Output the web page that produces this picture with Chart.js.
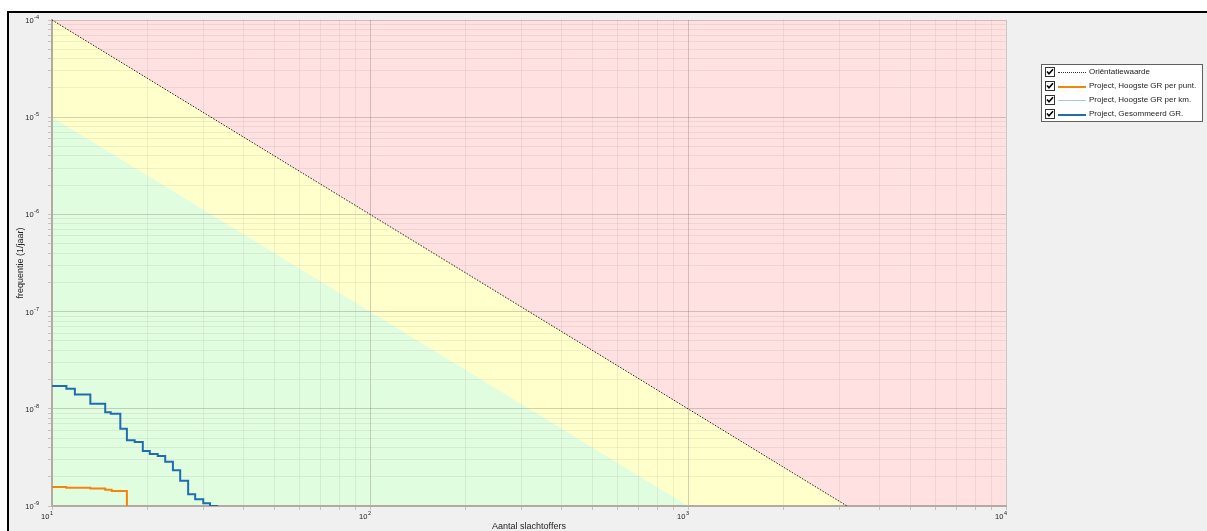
<!DOCTYPE html>
<html>
<head>
<meta charset="utf-8">
<title>FN-curve</title>
<script src="https://cdn.jsdelivr.net/npm/chart.js@4/dist/chart.umd.min.js"></script>
<style>
  html, body { margin: 0; padding: 0; width: 1207px; height: 531px; overflow: hidden; background: #ffffff;
    font-family: "Liberation Sans", Arial, sans-serif; color: #222; }
  #frame { position: absolute; left: 7px; top: 11px; width: 1200px; height: 520px; background: #f0f0f0;
    border-left: 2px solid #000; border-top: 2px solid #000; }
  #fn { position: absolute; left: 0; top: 0; }
  #labels { position: absolute; left: 0; top: 0; width: 1207px; height: 531px; pointer-events: none; }
  .tl { position: absolute; font-size: 7.5px; line-height: 9px; white-space: nowrap; color: #222; }
  .tl .e { font-size: 5.5px; position: relative; top: -4px; margin-left: 0.5px; }
  .xl { transform: translateX(-100%); }
  .yl { transform: translate(-100%, -50%); }
  .title { position: absolute; font-size: 9px; line-height: 11px; white-space: nowrap; color: #222; }
  #ytitle { transform: translate(-50%, -50%) rotate(-90deg); }
  #xtitle { transform: translate(-50%, -50%); }
  #legend { position: absolute; left: 1041px; top: 64px; width: 160px; height: 56px; background: #fff;
    border: 1px solid #606060; }
  .row { position: relative; height: 14px; font-size: 8px; line-height: 14px; white-space: nowrap; }
  .cb { position: absolute; left: 3px; top: 2px; width: 8px; height: 8px; border: 1px solid #333; background: #fff; }
  .cb svg { position: absolute; left: 0; top: 0; }
  .sw { position: absolute; left: 16px; top: 7px; width: 28px; height: 0; }
  .row span.t { position: absolute; left: 47px; top: 0; }
</style>
</head>
<body>
<div id="frame"></div>
<canvas id="fn" width="1207" height="531"></canvas>
<div id="labels"></div>
<div id="ytitle" class="title">frequentie (1/jaar)</div>
<div id="xtitle" class="title">Aantal slachtoffers</div>
<div id="legend"></div>

<script>
// Axis decades (labelled ticks) and the minor mantissas between them
const xDecades = [1, 2, 3, 4];
const yDecades = [-9, -8, -7, -6, -5, -4];
const minorMantissas = [2, 3, 4, 5, 6, 7, 8, 9];

// Oriëntatiewaarde: F = 1e-2 / N^2
const orientatieN = [10, 3162.3];
const orientatieF = [1e-4, 1e-9];
// Lower boundary, a factor 10 below the oriëntatiewaarde
const ondergrensN = [10, 1000];
const ondergrensF = [1e-5, 1e-9];
// Upper edge of the plot, filled down to the axis
const bovengrensN = [10, 10000];
const bovengrensF = [1e-4, 1e-4];

// Project, Hoogste GR per punt.
const puntN = [10, 11.1, 13.2, 14.7, 15.4, 17.2];
const puntF = [1.57e-9, 1.54e-9, 1.51e-9, 1.47e-9, 1.43e-9, 1.0e-9];
// Project, Hoogste GR per km.
const kmN = [];
const kmF = [];
// Project, Gesommeerd GR.
const somN = [10, 11.1, 11.8, 13.2, 14.7, 15.3, 16.4, 17.2, 18.2, 19.3, 20.3, 21.5, 22.7, 24.0, 25.3, 26.8, 28.2, 29.9, 31.4, 33.3];
const somF = [1.72e-8, 1.61e-8, 1.40e-8, 1.13e-8, 9.2e-9, 8.9e-9, 6.24e-9, 4.74e-9, 4.55e-9, 3.68e-9, 3.43e-9, 3.27e-9, 2.86e-9, 2.33e-9, 1.82e-9, 1.32e-9, 1.17e-9, 1.07e-9, 1.0e-9, 1.0e-9];

const legendItems = [
  { label: 'Oriëntatiewaarde', color: '#333', dash: true, width: 1 },
  { label: 'Project, Hoogste GR per punt.', color: '#f7820c', width: 2 },
  { label: 'Project, Hoogste GR per km.', color: '#a9c6e6', width: 1.5 },
  { label: 'Project, Gesommeerd GR.', color: '#1f6db0', width: 2 }
];

const pts = (xs, ys) => xs.map((x, i) => ({ x: x, y: ys[i] }));

function tickValues(decades) {
  const vals = [];
  decades.forEach((e, i) => {
    vals.push(Math.pow(10, e));
    if (i < decades.length - 1) minorMantissas.forEach(m => vals.push(m * Math.pow(10, e)));
  });
  return vals;
}
const isDecade = v => Math.abs(Math.log10(v) - Math.round(Math.log10(v))) < 1e-9;
const majorGrid = 'rgba(120,110,100,0.32)';
const minorGrid = 'rgba(120,110,100,0.11)';

const labelPlugin = {
  id: 'decadeLabels',
  afterDraw(chart) {
    const layer = document.getElementById('labels');
    layer.innerHTML = '';
    const xs = chart.scales.x, ys = chart.scales.y;
    xDecades.forEach(e => {
      const d = document.createElement('div');
      d.className = 'tl xl';
      d.innerHTML = '10<span class="e">' + e + '</span>';
      d.style.left = (xs.getPixelForValue(Math.pow(10, e)) + 1) + 'px';
      d.style.top = (xs.top + 6) + 'px';
      layer.appendChild(d);
    });
    yDecades.forEach(e => {
      const d = document.createElement('div');
      d.className = 'tl yl';
      d.innerHTML = '10<span class="e">' + e + '</span>';
      d.style.left = (ys.right - 13) + 'px';
      d.style.top = (ys.getPixelForValue(Math.pow(10, e)) + 1) + 'px';
      layer.appendChild(d);
    });
    const area = chart.chartArea;
    const yt = document.getElementById('ytitle');
    yt.style.left = '20px';
    yt.style.top = ((area.top + area.bottom) / 2) + 'px';
    const xt = document.getElementById('xtitle');
    xt.style.left = ((area.left + area.right) / 2) + 'px';
    xt.style.top = '526px';
  }
};

new Chart(document.getElementById('fn'), {
  type: 'scatter',
  data: {
    datasets: [
      { label: legendItems[3].label, data: pts(somN, somF), showLine: true, stepped: 'before',
        borderColor: legendItems[3].color, borderWidth: 2, pointRadius: 0, fill: false },
      { label: legendItems[1].label, data: pts(puntN, puntF), showLine: true, stepped: 'before',
        borderColor: legendItems[1].color, borderWidth: 2, pointRadius: 0, fill: false },
      { label: legendItems[2].label, data: pts(kmN, kmF), showLine: true, stepped: 'before',
        borderColor: legendItems[2].color, borderWidth: 1.5, pointRadius: 0, fill: false },
      { label: 'ondergrens', data: pts(ondergrensN, ondergrensF), showLine: true,
        borderWidth: 0, borderColor: 'rgba(0,0,0,0)', backgroundColor: '#e0fde0', pointRadius: 0, fill: 'start' },
      { label: legendItems[0].label, data: pts(orientatieN, orientatieF), showLine: true,
        borderColor: '#222', borderWidth: 1, borderDash: [1.5, 1.5], backgroundColor: '#ffffcc', pointRadius: 0, fill: 'start' },
      { label: 'bovengrens', data: pts(bovengrensN, bovengrensF), showLine: true,
        borderWidth: 0, borderColor: 'rgba(0,0,0,0)', backgroundColor: '#ffe1e1', pointRadius: 0, fill: 'start' }
    ]
  },
  options: {
    responsive: false,
    animation: false,
    layout: { padding: { left: 0, top: 20, right: 201, bottom: 0 } },
    plugins: {
      legend: { display: false },
      tooltip: { enabled: false },
      filler: { drawTime: 'beforeDraw' }
    },
    scales: {
      x: {
        type: 'logarithmic', min: 10, max: 10000,
        afterBuildTicks: s => { s.ticks = tickValues(xDecades).map(v => ({ value: v, major: isDecade(v) })); },
        afterFit: s => { s.height = 25; },
        ticks: { callback: () => '', autoSkip: false, maxRotation: 0, padding: 0, font: { size: 1 } },
        grid: {
          color: c => (c.tick && isDecade(c.tick.value)) ? majorGrid : minorGrid,
          tickColor: 'rgba(120,110,100,0.35)',
          tickLength: 4, lineWidth: 1
        },
        border: { display: true, color: '#b3aaa1', width: 2 }
      },
      y: {
        type: 'logarithmic', min: 1e-9, max: 1e-4,
        afterBuildTicks: s => { s.ticks = tickValues(yDecades).map(v => ({ value: v, major: isDecade(v) })); },
        afterFit: s => { s.width = 52; },
        ticks: { callback: () => '', autoSkip: false, padding: 0, font: { size: 1 } },
        grid: {
          color: c => (c.tick && isDecade(c.tick.value)) ? majorGrid : minorGrid,
          tickColor: 'rgba(120,110,100,0.35)',
          tickLength: 4, lineWidth: 1
        },
        border: { display: true, color: '#b3aaa1', width: 2 }
      }
    }
  },
  plugins: [labelPlugin]
});

// Legend with check boxes
const legend = document.getElementById('legend');
legendItems.forEach(it => {
  const row = document.createElement('div');
  row.className = 'row';
  const line = it.dash
    ? 'border-top:1px dotted ' + it.color + ';'
    : 'border-top:' + it.width + 'px solid ' + it.color + ';';
  row.innerHTML =
    '<div class="cb"><svg width="8" height="8" viewBox="0 0 8 8"><polyline points="1,3.5 3,5.8 7,1.2" fill="none" stroke="#000" stroke-width="1.6"/></svg></div>' +
    '<div class="sw" style="' + line + '"></div>' +
    '<span class="t">' + it.label + '</span>';
  legend.appendChild(row);
});
</script>
</body>
</html>
